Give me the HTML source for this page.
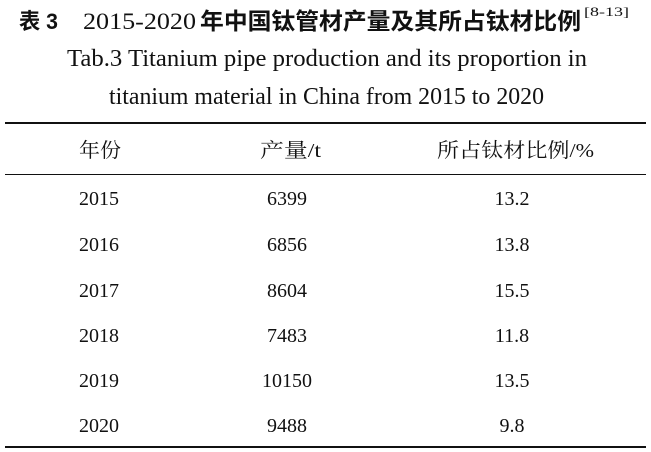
<!DOCTYPE html>
<html><head><meta charset="utf-8"><style>
html,body{margin:0;padding:0;background:#fff;}
svg{display:block}
</style></head><body>
<svg width="651" height="452" viewBox="0 0 651 452" xmlns="http://www.w3.org/2000/svg">
<rect width="651" height="452" fill="#fff"/>
<g fill="#111">
<text x="19" y="29" font-family="'Liberation Sans','Noto Sans CJK SC',sans-serif" font-weight="bold" font-size="22" textLength="39" lengthAdjust="spacingAndGlyphs">表 3</text>
<text x="83" y="29" font-family="'Liberation Serif',serif" font-size="23" textLength="113" lengthAdjust="spacingAndGlyphs">2015-2020</text>
<text x="200" y="29" font-family="'Noto Sans CJK SC',sans-serif" font-weight="bold" font-size="23" textLength="381" lengthAdjust="spacingAndGlyphs">年中国钛管材产量及其所占钛材比例</text>
<text x="584" y="16" font-family="'Liberation Serif',serif" font-size="13" textLength="45" lengthAdjust="spacingAndGlyphs">[8-13]</text>
<text x="67" y="66" font-family="'Liberation Serif',serif" font-size="24" textLength="520" lengthAdjust="spacingAndGlyphs">Tab.3    Titanium pipe production and its proportion in</text>
<text x="109" y="104" font-family="'Liberation Serif',serif" font-size="24" textLength="435" lengthAdjust="spacingAndGlyphs">titanium material in China from 2015 to 2020</text>
</g>
<rect x="5" y="122" width="641" height="2" fill="#111"/>
<rect x="5" y="174" width="641" height="1" fill="#111"/>
<rect x="5" y="446" width="641" height="2" fill="#111"/>
<g fill="#111" font-family="'Liberation Serif','Noto Serif CJK SC',serif" font-size="20">
<text x="79" y="157" textLength="42" lengthAdjust="spacingAndGlyphs">年份</text>
<text x="260" y="157" textLength="61" lengthAdjust="spacingAndGlyphs">产量/t</text>
<text x="437" y="157" textLength="157" lengthAdjust="spacingAndGlyphs">所占钛材比例/%</text>
</g>
<g fill="#111" font-family="'Liberation Serif',serif" font-size="20" text-anchor="middle">
<text x="99" y="205">2015</text><text x="287" y="205">6399</text><text x="512" y="205">13.2</text>
<text x="99" y="251">2016</text><text x="287" y="251">6856</text><text x="512" y="251">13.8</text>
<text x="99" y="297">2017</text><text x="287" y="297">8604</text><text x="512" y="297">15.5</text>
<text x="99" y="342">2018</text><text x="287" y="342">7483</text><text x="512" y="342">11.8</text>
<text x="99" y="387">2019</text><text x="287" y="387">10150</text><text x="512" y="387">13.5</text>
<text x="99" y="432">2020</text><text x="287" y="432">9488</text><text x="512" y="432">9.8</text>
</g>
</svg>
</body></html>
